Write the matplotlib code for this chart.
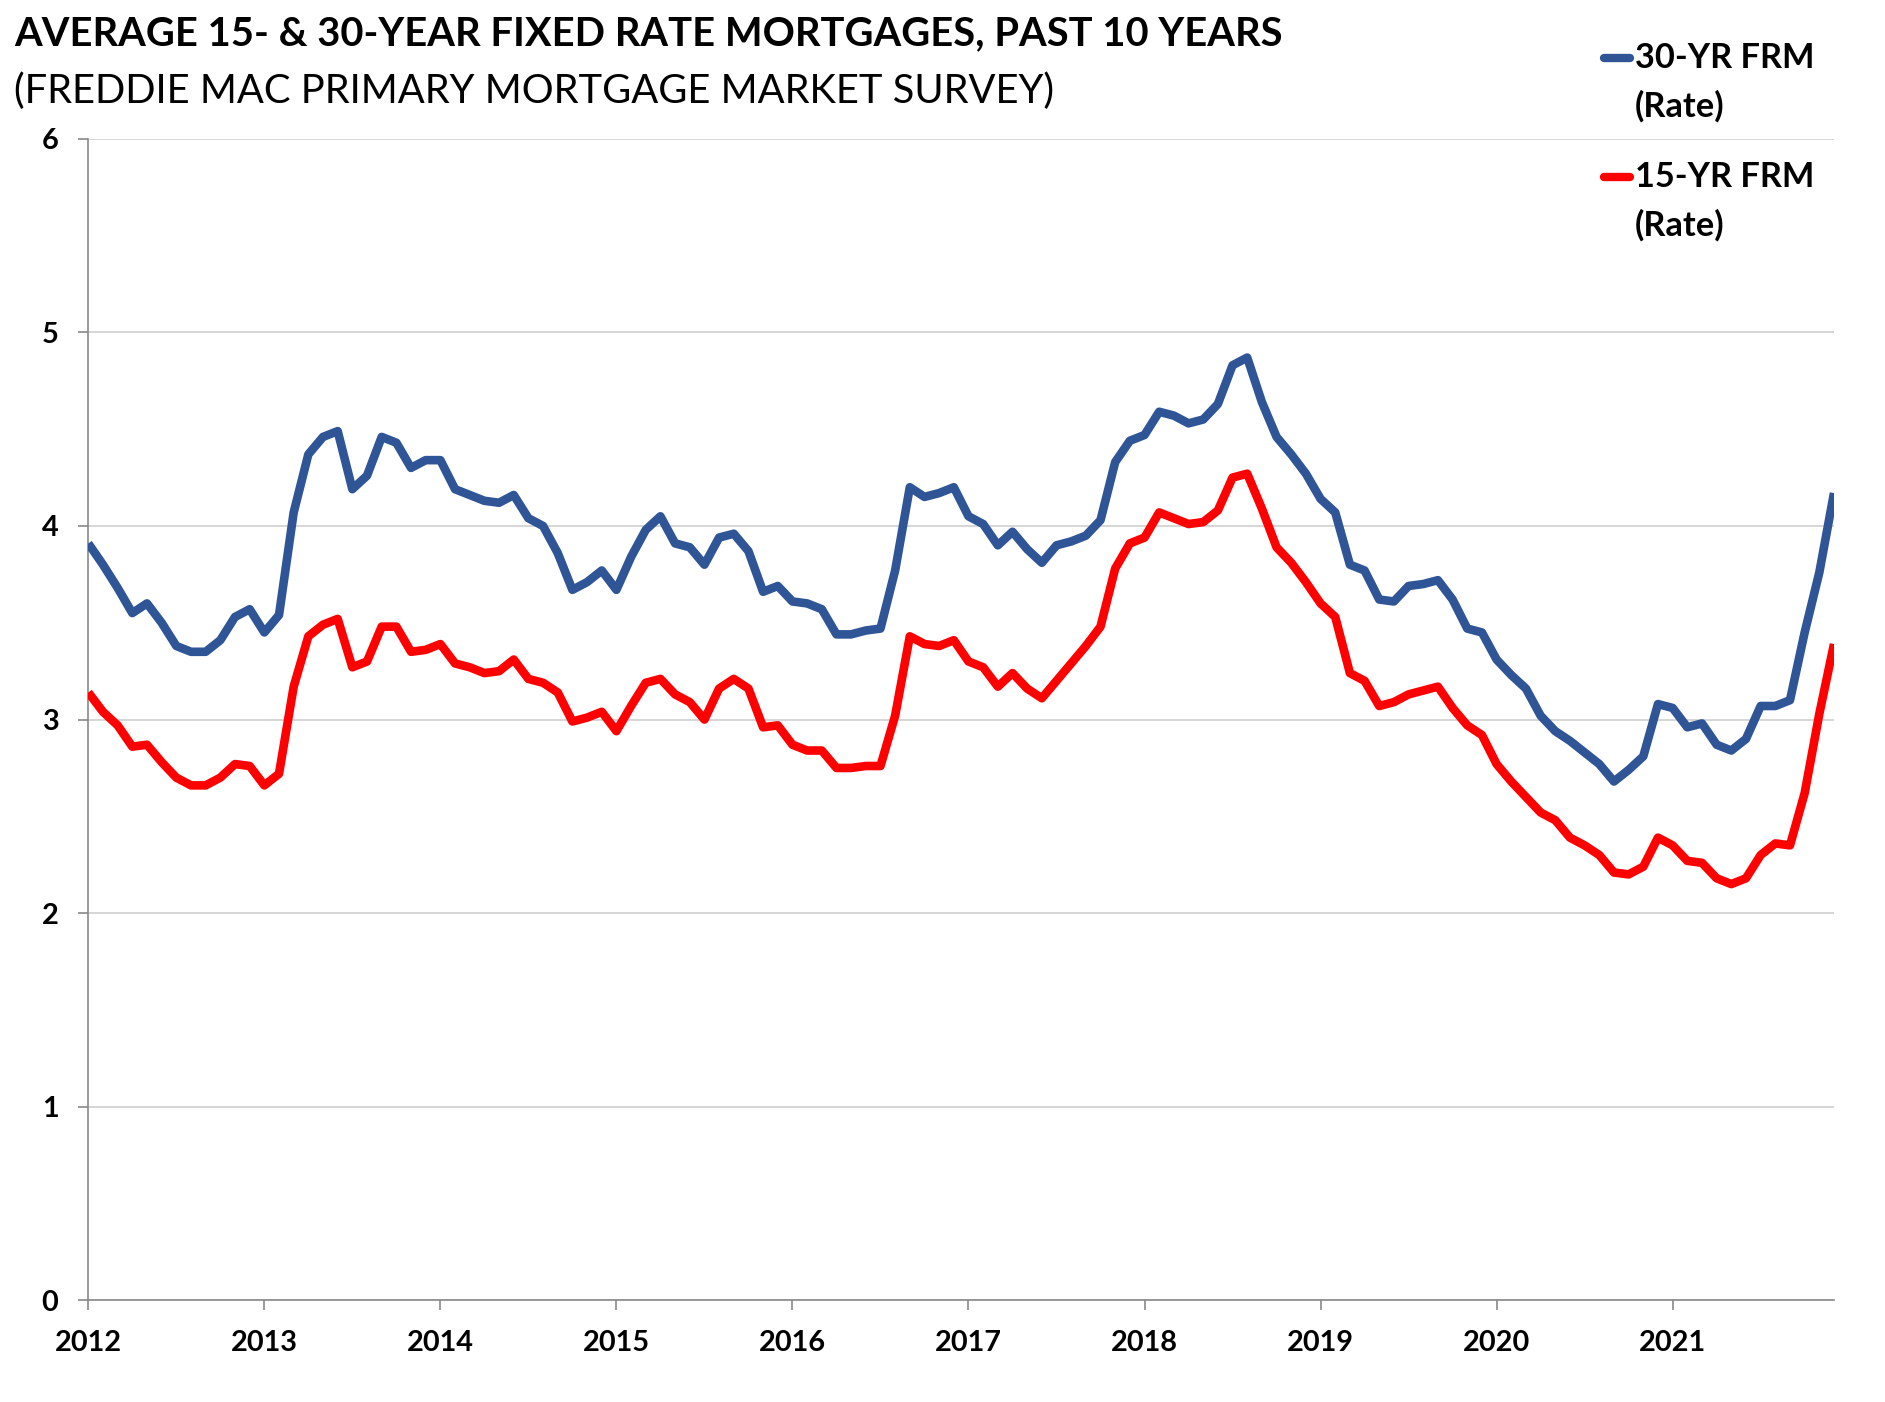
import matplotlib
matplotlib.use("Agg")
import matplotlib.pyplot as plt
from matplotlib.lines import Line2D

# ---- data (monthly averages, 120 points) ----
years = ["2012", "2013", "2014", "2015", "2016", "2017", "2018", "2019", "2020", "2021"]
frm30 = [3.91, 3.80, 3.68, 3.55, 3.60, 3.50, 3.38, 3.35, 3.35,
         3.41, 3.53, 3.57, 3.45, 3.54, 4.07, 4.37, 4.46, 4.49, 4.19, 4.26, 4.46,
         4.43, 4.30, 4.34, 4.34, 4.19, 4.16, 4.13, 4.12, 4.16, 4.04, 4.00, 3.86,
         3.67, 3.71, 3.77, 3.67, 3.84, 3.98, 4.05, 3.91, 3.89, 3.80, 3.94, 3.96,
         3.87, 3.66, 3.69, 3.61, 3.60, 3.57, 3.44, 3.44, 3.46, 3.47, 3.77, 4.20,
         4.15, 4.17, 4.20, 4.05, 4.01, 3.90, 3.97, 3.88, 3.81, 3.90, 3.92, 3.95,
         4.03, 4.33, 4.44, 4.47, 4.59, 4.57, 4.53, 4.55, 4.63, 4.83, 4.87, 4.64,
         4.46, 4.37, 4.27, 4.14, 4.07, 3.80, 3.77, 3.62, 3.61, 3.69, 3.70, 3.72,
         3.62, 3.47, 3.45, 3.31, 3.23, 3.16, 3.02, 2.94, 2.89, 2.83, 2.77, 2.68,
         2.74, 2.81, 3.08, 3.06, 2.96, 2.98, 2.87, 2.84, 2.90, 3.07, 3.07, 3.10,
         3.45, 3.76, 4.17]
frm15 = [3.14, 3.04, 2.97, 2.86, 2.87, 2.78, 2.70, 2.66, 2.66,
         2.70, 2.77, 2.76, 2.66, 2.72, 3.17, 3.43, 3.49, 3.52, 3.27, 3.30, 3.48,
         3.48, 3.35, 3.36, 3.39, 3.29, 3.27, 3.24, 3.25, 3.31, 3.21, 3.19, 3.14,
         2.99, 3.01, 3.04, 2.94, 3.07, 3.19, 3.21, 3.13, 3.09, 3.00, 3.16, 3.21,
         3.16, 2.96, 2.97, 2.87, 2.84, 2.84, 2.75, 2.75, 2.76, 2.76, 3.02, 3.43,
         3.39, 3.38, 3.41, 3.30, 3.27, 3.17, 3.24, 3.16, 3.11, 3.20, 3.29, 3.38,
         3.48, 3.78, 3.91, 3.94, 4.07, 4.04, 4.01, 4.02, 4.08, 4.25, 4.27, 4.09,
         3.89, 3.81, 3.71, 3.60, 3.53, 3.24, 3.20, 3.07, 3.09, 3.13, 3.15, 3.17,
         3.06, 2.97, 2.92, 2.77, 2.68, 2.60, 2.52, 2.48, 2.39, 2.35, 2.30, 2.21,
         2.20, 2.24, 2.39, 2.35, 2.27, 2.26, 2.18, 2.15, 2.18, 2.30, 2.36, 2.35,
         2.62, 3.03, 3.39]
yticks = [0, 1, 2, 3, 4, 5, 6]
label30 = ["30-YR FRM", "(Rate)"]
label15 = ["15-YR FRM", "(Rate)"]
title = "AVERAGE 15- & 30-YEAR FIXED RATE MORTGAGES, PAST 10 YEARS"
subtitle = "(FREDDIE MAC PRIMARY MORTGAGE MARKET SURVEY)"

BLUE = "#2F5597"
RED = "#FF0000"
W, H = 1885, 1402
FONT = "Lato"

fig = plt.figure(figsize=(W / 100, H / 100), dpi=100)
fig.patch.set_facecolor("white")

def fx(px):
    return px / W

def fy(py):
    return 1 - py / H

left, right, top, bottom = 88.3, 1834.0, 138.8, 1300.3
ax = fig.add_axes([fx(left), fy(bottom), fx(right) - fx(left), (bottom - top) / H])

x = list(range(len(frm30)))
ax.plot(x, frm30, color=BLUE, lw=6.2, solid_joinstyle="round", solid_capstyle="butt", zorder=3)
ax.plot(x, frm15, color=RED, lw=6.2, solid_joinstyle="round", solid_capstyle="butt", zorder=3)

ax.set_xlim(0, len(frm30) - 1)
ax.set_ylim(0, 6)
ax.set_yticks(yticks)
ax.set_yticklabels([str(v) for v in yticks])
ax.set_xticks([12 * i for i in range(len(years))])
ax.set_xticklabels(years)

for s in ["top", "right"]:
    ax.spines[s].set_visible(False)
for s in ["left", "bottom"]:
    ax.spines[s].set_color("#898989")
    ax.spines[s].set_linewidth(1.2)

ax.yaxis.grid(True, color="#D0D0D0", linewidth=1.2)
ax.set_axisbelow(True)
ax.tick_params(axis="both", color="#898989", length=7.5, width=1.2, labelcolor="black")
ax.tick_params(axis="y", pad=14)
ax.tick_params(axis="x", pad=14)

renderer = fig.canvas.get_renderer()

def fit(t, target_w):
    bb = t.get_window_extent(renderer)
    t.set_fontsize(t.get_fontsize() * target_w / bb.width)

# tick label size fitted to reference widths
probe = fig.text(0, 0, "2020", fontsize=20, fontweight="bold", family=FONT)
fit(probe, 67)
tick_fs = probe.get_fontsize()
probe.remove()
for lab in ax.get_xticklabels() + ax.get_yticklabels():
    lab.set_fontfamily(FONT)
    lab.set_fontweight("bold")
    lab.set_fontsize(tick_fs)

t1 = fig.text(fx(14.4), fy(34), title, fontsize=26, fontweight="bold",
              family=FONT, va="center", ha="left")
fit(t1, 1268)
t2 = fig.text(fx(14.4), fy(91), subtitle, fontsize=24, family=FONT,
              va="center", ha="left")
fit(t2, 1043)

# legend
leg_rows = [(label30, BLUE, 58, 106), (label15, RED, 177, 225)]
for labels, col, y1, y2 in leg_rows:
    fig.add_artist(Line2D([fx(1604), fx(1630)], [fy(y1), fy(y1)], color=col,
                          lw=6, solid_capstyle="round", transform=fig.transFigure))
    a = fig.text(fx(1635), fy(y1), labels[0], fontsize=20, fontweight="bold",
                 family=FONT, va="center", ha="left")
    fit(a, 180)
    b = fig.text(fx(1635), fy(y2), labels[1], fontsize=a.get_fontsize(),
                 fontweight="bold", family=FONT, va="center", ha="left")

fig.savefig("out.png", dpi=100, facecolor="white")
